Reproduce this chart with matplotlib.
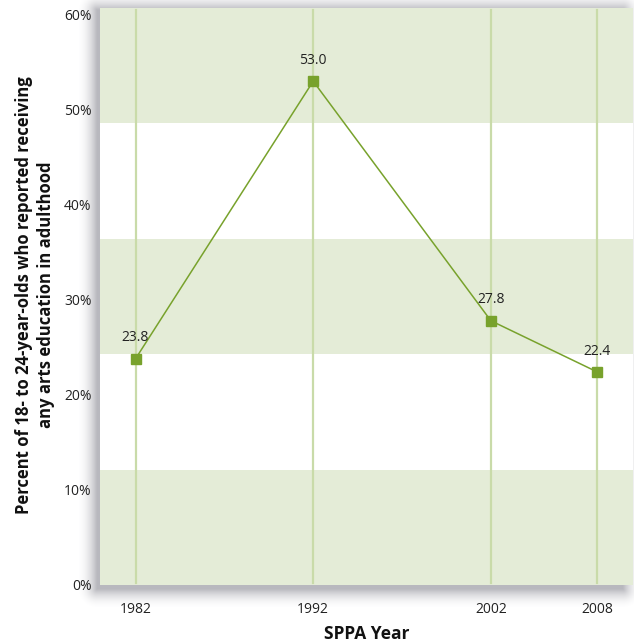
import numpy as np
import matplotlib.pyplot as plt

# data
years = [1982, 1992, 2002, 2008]
pct = [23.8, 53.0, 27.8, 22.4]
yticks = [0, 10, 20, 30, 40, 50, 60]
ytick_labels = ['0%', '10%', '20%', '30%', '40%', '50%', '60%']

band_green = '#e4ecd7'
grid_green = '#c9dba9'
line_green = '#78a22c'
text_col = '#222222'

plt.rcParams['font.family'] = ['Open Sans', 'DejaVu Sans']

W, H = 634, 644
fig = plt.figure(figsize=(W / 100, H / 100), dpi=100)

# plot box in pixels
x0, x1, y0, y1 = 100, 633, 8, 585

# drop shadow on a background axes
bg = fig.add_axes([0, 0, 1, 1], zorder=0)
bg.set_xlim(0, W)
bg.set_ylim(H, 0)
bg.axis('off')
xx, yy = np.meshgrid(np.arange(W) + 0.5, np.arange(H) + 0.5)
sx0, sx1, sy0, sy1 = x0 - 3, x1 - 10, y0 + 2, y1 + 4
dx = np.maximum(np.maximum(sx0 - xx, xx - sx1), 0)
dy = np.maximum(np.maximum(sy0 - yy, yy - sy1), 0)
d = np.hypot(dx, dy)
a = np.clip(1 - d / 20, 0, 1) ** 2 * 0.55
shadow = np.zeros((H, W, 4))
shadow[..., 0] = 0.50
shadow[..., 1] = 0.50
shadow[..., 2] = 0.54
shadow[..., 3] = a
bg.imshow(shadow, extent=(0, W, H, 0), interpolation='bilinear')

ax = fig.add_axes([x0 / W, 1 - y1 / H, (x1 - x0) / W, (y1 - y0) / H], zorder=1)
ax.set_facecolor('white')
ymax = 60.7
ax.set_xlim(1980, 2010)
ax.set_ylim(0, ymax)

# alternating bands
edges = np.linspace(0, ymax, 6)
for i in range(0, 5, 2):
    ax.axhspan(edges[i], edges[i + 1], color=band_green, lw=0, zorder=0)

for yr in years:
    ax.axvline(yr, ymin=0.004, ymax=0.996, color=grid_green, lw=1.6, zorder=1)

ax.plot(years, pct, color=line_green, lw=1.1, marker='s', ms=7.5,
        mec=line_green, mfc=line_green, zorder=3)
for yr, v in zip(years, pct):
    ax.annotate(f'{v:.1f}', (yr, v), xytext=(0, 15), textcoords='offset points',
                ha='center', va='center', fontsize=10, color=text_col)

for s in ax.spines.values():
    s.set_visible(False)
ax.set_xticks(years)
ax.set_xticklabels([str(y) for y in years])
ax.set_yticks(yticks)
ax.set_yticklabels(ytick_labels)
ax.tick_params(length=0, labelsize=10, colors=text_col)
ax.tick_params(axis='x', pad=12)
ax.tick_params(axis='y', pad=6)

ax.set_xlabel('SPPA Year', fontsize=12.5, fontweight='bold', color='#111111', labelpad=6)
fig.text(35 / W, 1 - 295 / H,
         'Percent of 18- to 24-year-olds who reported receiving\nany arts education in adulthood',
         rotation=90, ha='center', va='center', fontsize=12, fontweight='bold',
         color='#111111', linespacing=1.3, multialignment='center')

fig.savefig('out.png', dpi=100, facecolor='white')
